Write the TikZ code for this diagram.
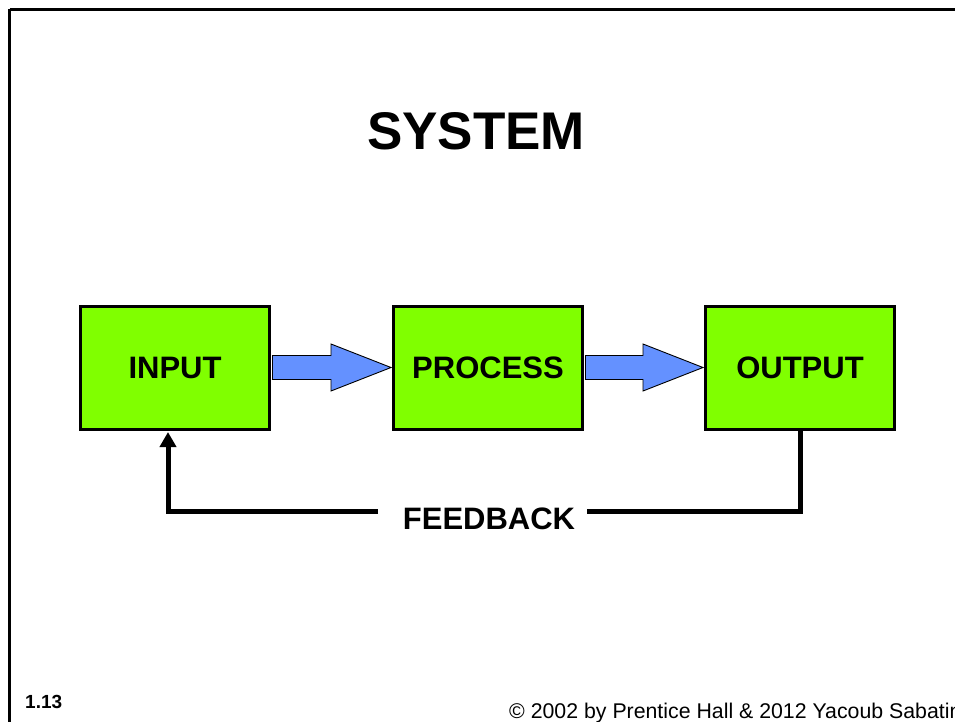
\documentclass[tikz,border=0pt]{standalone}
\usepackage{fontspec}
\setmainfont{Liberation Sans}
\usetikzlibrary{calc,arrows.meta}
\definecolor{boxgreen}{RGB}{128,255,0}
\definecolor{arrowblue}{RGB}{100,145,255}
\tikzset{
  sysbox/.style={draw=black, line width=3pt, fill=boxgreen, minimum width=189pt, minimum height=123pt, inner sep=0pt, font=\fontsize{31}{36}\selectfont\bfseries},
  blockarrowstyle/.style={fill=arrowblue, draw=black, line width=0.9pt, line join=miter},
  feedline/.style={line width=5pt},
  framestyle/.style={draw=black, line width=3pt},
}
\newcommand\myblockarrow[2]{%
  \coordinate (s) at ($(#1.east)+(1.5,0)$);
  \coordinate (t) at ($(#2.west)+(-1,0)$);
  \coordinate (h) at ($(t)+(-60,0)$);
  \filldraw[blockarrowstyle] ($(s)+(0,-12)$) -- ($(h)+(0,-12)$) -- ($(h)+(0,-23.5)$) -- (t) -- ($(h)+(0,23.5)$) -- ($(h)+(0,12)$) -- ($(s)+(0,12)$) -- cycle;}
\begin{document}
\begin{tikzpicture}[x=1pt,y=-1pt]
\useasboundingbox (0,0) rectangle (955,722);
\fill[white] (0,0) rectangle (955,722);
% frame
\draw[framestyle] (9.5,9.5) -- (970,9.5) (9.5,9.5) -- (9.5,740);
% title
\node[anchor=base, font=\fontsize{53}{60}\selectfont\bfseries, inner sep=0pt] (title) at (476,150) {SYSTEM};
% boxes
\node[sysbox] (in) at (175,367.5) {INPUT};
\node[sysbox] (proc) at (488,367.5) {PROCESS};
\node[sysbox] (out) at (800,367.5) {OUTPUT};
% block arrows
\myblockarrow{in}{proc}
\myblockarrow{proc}{out}
% feedback
\node[anchor=base, font=\fontsize{31}{36}\selectfont\bfseries, inner sep=0pt] (fb) at (489,529) {FEEDBACK};
\coordinate (fbR) at (587,511);
\coordinate (fbL) at (378,511);
\draw[feedline] ($(out.south)+(0,-1.5)$) |- (fbR);
\draw[feedline, -{Triangle[width=16pt,length=15pt]}] (fbL) -| ($(in.south)+(-7,1.5)$);
% footer
\node[anchor=base west, font=\fontsize{19}{22}\selectfont\bfseries, inner sep=0pt] (num) at (25,708) {1.13};
\node[anchor=base west, font=\fontsize{21.3}{25}\selectfont, inner sep=0pt] (copy) at (509,718) {© 2002 by Prentice Hall \& 2012 Yacoub Sabatin};
\end{tikzpicture}
\end{document}
